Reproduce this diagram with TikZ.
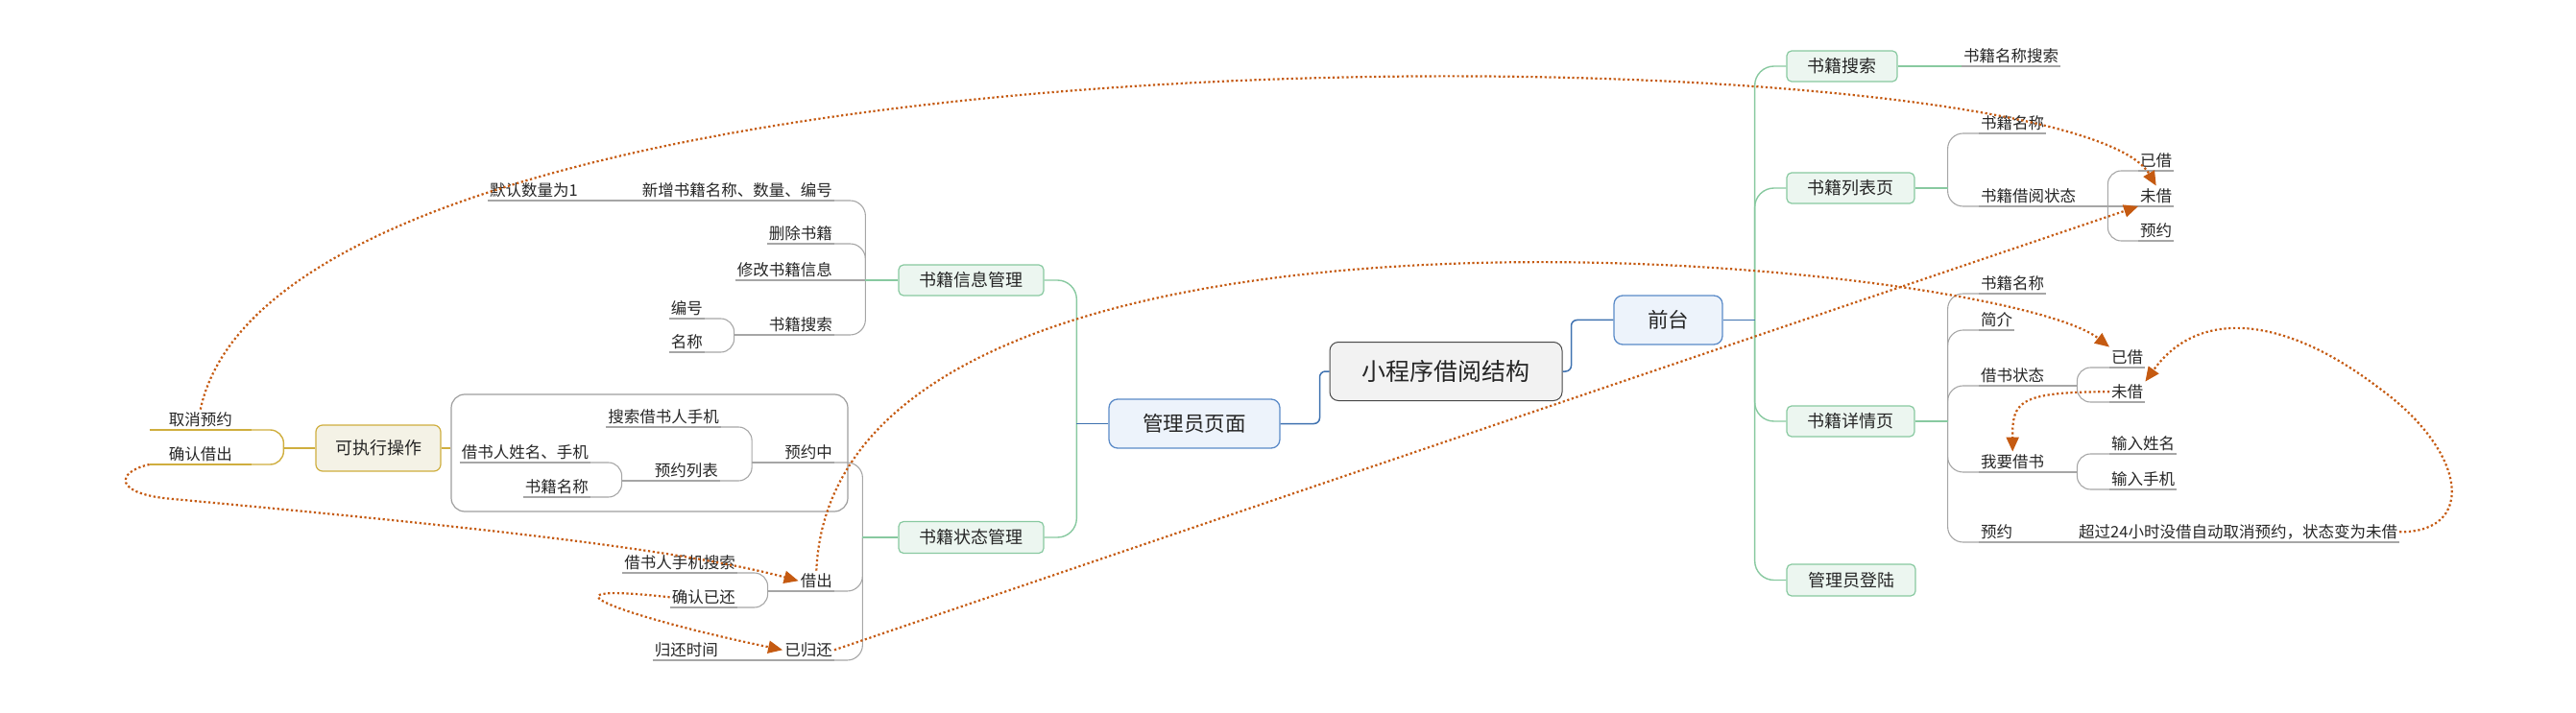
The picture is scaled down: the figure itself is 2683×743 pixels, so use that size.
\documentclass[tikz,border=0pt]{standalone}
\usepackage{fontspec}
\setmainfont{Noto Sans CJK SC}
\usetikzlibrary{arrows.meta}

\definecolor{cgray}{HTML}{A6A6A6}
\definecolor{cbound}{HTML}{9E9E9E}
\definecolor{cblue}{HTML}{3F72B0}
\definecolor{cbluebd}{HTML}{5B8BC8}
\definecolor{cbluefill}{HTML}{EDF3FB}
\definecolor{cgreen}{HTML}{88C9A0}
\definecolor{cgreenfill}{HTML}{ECF6F0}
\definecolor{cgold}{HTML}{CFAE3E}
\definecolor{cgoldfill}{HTML}{F4F2E6}
\definecolor{crootbd}{HTML}{474747}
\definecolor{crootfill}{HTML}{F2F2F2}
\definecolor{crel}{HTML}{C55A11}
\definecolor{ctext}{HTML}{262626}

\tikzset{
  leaf/.style={font=\fontsize{16.5}{19}\selectfont, text=ctext, inner xsep=2pt, inner ysep=3pt,
    text height=13.5pt, text depth=1.5pt,
    append after command={(\tikzlastnode.south west) edge[draw=#1, line width=1.1pt] (\tikzlastnode.south east)}},
  leaf/.default=cgray,
  rootbox/.style={draw=crootbd, fill=crootfill, line width=1pt, rounded corners=9pt, text=ctext,
    minimum width=242pt, minimum height=61pt, font=\fontsize{25}{28}\selectfont},
  bluebox/.style={draw=cbluebd, fill=cbluefill, line width=1.3pt, rounded corners=9pt, text=ctext,
    minimum height=51pt, font=\fontsize{21.5}{24}\selectfont},
  greenbox/.style={draw=cgreen, fill=cgreenfill, line width=1.2pt, rounded corners=5pt, text=ctext,
    minimum height=32pt, font=\fontsize{18}{21}\selectfont},
  goldbox/.style={draw=cgold, fill=cgoldfill, line width=1.2pt, rounded corners=7pt, text=ctext,
    minimum height=48pt, font=\fontsize{18}{21}\selectfont},
  boundbox/.style={draw=cbound, line width=1.2pt, rounded corners=14pt, minimum width=413pt, minimum height=122pt},
  grayconn/.style={draw=cgray, line width=1.1pt},
  blueconn/.style={draw=cblue, line width=1.5pt},
  greenconn/.style={draw=cgreen, line width=1.4pt},
  goldconn/.style={draw=cgold, line width=1.4pt},
  rel/.style={draw=crel, line width=2.2pt, dash pattern=on 2.2pt off 2.6pt, -{Triangle[length=15pt, width=13pt]}}
}

\begin{document}
\begin{tikzpicture}[x=1pt, y=-1pt]
\useasboundingbox (0,0) rectangle (2683,743);

\node[rootbox] (root) at (1506,387) {小程序借阅结构};
\node[bluebox, minimum width=178pt] (admin) at (1244,441.5) {管理员页面};
\node[bluebox, minimum width=113pt] (front) at (1737.5,333.5) {前台};
\draw[blueconn, rounded corners=6pt] (root.west) -- ++(-10,0) |- (admin.east);
\draw[blueconn, rounded corners=6pt] (root.east) -- ++(9,0) |- (front.west);

% 前台
\node[greenbox, minimum width=115pt] (search) at (1918.5,69) {书籍搜索};
\node[greenbox, minimum width=133pt] (list) at (1927.5,196) {书籍列表页};
\node[greenbox, minimum width=133pt] (detail) at (1927.5,439) {书籍详情页};
\node[greenbox, minimum width=134pt, minimum height=33pt] (login) at (1928,604.5) {管理员登陆};
\foreach \c in {search,list,detail,login}
  \draw[greenconn, rounded corners=20pt] (front.east) ++(33,0) |- (\c.west);
\draw[blueconn] (front.east) -- ++(33,0);

\node[leaf, anchor=south west] (sname) at (2043,69) {书籍名称搜索};
\draw[greenconn] (search.east) -- (sname.south west);

\node[leaf, anchor=south west] (lname) at (2061,139) {书籍名称};
\node[leaf, anchor=south west] (lstate) at (2061,215) {书籍借阅状态};
\foreach \c in {lname,lstate}
  \draw[grayconn, rounded corners=16pt] (list.east) ++(34,0) |- (\c.south west);
\draw[greenconn] (list.east) -- ++(34,0);

\node[leaf, anchor=south west] (lborrowed) at (2227,178) {已借};
\node[leaf, anchor=south west] (lfree) at (2227,215) {未借};
\node[leaf, anchor=south west] (lresv) at (2227,251) {预约};
\foreach \c in {lborrowed,lresv}
  \draw[grayconn, rounded corners=14pt] (lstate.south east) ++(31,0) |- (\c.south west);
\draw[grayconn] (lstate.south east) -- (lfree.south west);

\node[leaf, anchor=south west] (dname) at (2061,306) {书籍名称};
\node[leaf, anchor=south west] (intro) at (2061,344) {简介};
\node[leaf, anchor=south west] (dstate) at (2061,402) {借书状态};
\node[leaf, anchor=south west] (borrow) at (2061,492) {我要借书};
\node[leaf, anchor=south west] (dresv) at (2061,565) {预约};
\foreach \c in {dname,intro,dstate,borrow,dresv}
  \draw[grayconn, rounded corners=16pt] (detail.east) ++(34,0) |- (\c.south west);
\draw[greenconn] (detail.east) -- ++(34,0);

\node[leaf, anchor=south west] (dborrowed) at (2197,383) {已借};
\node[leaf, anchor=south west] (dfree) at (2197,419) {未借};
\foreach \c in {dborrowed,dfree}
  \draw[grayconn, rounded corners=14pt] (dstate.south east) ++(32,0) |- (\c.south west);
\draw[grayconn] (dstate.south east) -- ++(32,0);

\node[leaf, anchor=south west] (inname) at (2197,473) {输入姓名};
\node[leaf, anchor=south west] (inphone) at (2197,510) {输入手机};
\foreach \c in {inname,inphone}
  \draw[grayconn, rounded corners=14pt] (borrow.south east) ++(32,0) |- (\c.south west);
\draw[grayconn] (borrow.south east) -- ++(32,0);

\node[leaf, anchor=south west] (timeout) at (2163,565) {超过24小时没借自动取消预约，状态变为未借};
\draw[grayconn] (dresv.south east) -- (timeout.south west);

% 管理员页面
\node[greenbox, minimum width=151pt] (bookinfo) at (1011.5,292) {书籍信息管理};
\node[greenbox, minimum width=151pt, minimum height=33pt] (bookstat) at (1011.5,560) {书籍状态管理};
\foreach \c in {bookinfo,bookstat}
  \draw[greenconn, rounded corners=20pt] (admin.west) ++(-33,0) |- (\c.east);
\draw[blueconn] (admin.west) -- ++(-33,0);

\node[leaf, anchor=south east] (add) at (869,209) {新增书籍名称、数量、编号};
\node[leaf, anchor=south east] (dflt) at (604,209) {默认数量为1};
\node[leaf, anchor=south east] (del) at (869,254) {删除书籍};
\node[leaf, anchor=south east] (mod) at (869,292) {修改书籍信息};
\node[leaf, anchor=south east] (bsearch) at (869,349) {书籍搜索};
\foreach \c in {add,del,bsearch}
  \draw[grayconn, rounded corners=16pt] (bookinfo.west) ++(-34,0) |- (\c.south east);
\draw[grayconn] (bookinfo.west) -- (mod.south east);
\draw[greenconn] (bookinfo.west) -- ++(-34,0);
\draw[grayconn] (add.south west) -- (dflt.south east);

\node[leaf, anchor=south east] (num) at (734,332) {编号};
\node[leaf, anchor=south east] (bname) at (734,367) {名称};
\foreach \c in {num,bname}
  \draw[grayconn, rounded corners=14pt] (bsearch.south west) ++(-34,0) |- (\c.south east);
\draw[grayconn] (bsearch.south west) -- ++(-34,0);

\node[leaf, anchor=south east] (resv) at (869,482) {预约中};
\node[leaf, anchor=south east] (lend) at (869,616) {借出};
\node[leaf, anchor=south east] (ret) at (869,688) {已归还};
\foreach \c in {resv,lend,ret}
  \draw[grayconn, rounded corners=16pt] (bookstat.west) ++(-37,0) |- (\c.south east);
\draw[greenconn] (bookstat.west) -- ++(-37,0);

\node[leaf, anchor=south east] (phone) at (751,445) {搜索借书人手机};
\node[leaf, anchor=south east] (rlist) at (750,501) {预约列表};
\foreach \c in {phone,rlist}
  \draw[grayconn, rounded corners=14pt] (resv.south west) ++(-32,0) |- (\c.south east);
\draw[grayconn] (resv.south west) -- ++(-32,0);

\node[leaf, anchor=south east] (who) at (615,482) {借书人姓名、手机};
\node[leaf, anchor=south east] (rname) at (615,518) {书籍名称};
\foreach \c in {who,rname}
  \draw[grayconn, rounded corners=14pt] (rlist.south west) ++(-32,0) |- (\c.south east);
\draw[grayconn] (rlist.south west) -- ++(-32,0);

\node[leaf, anchor=south east] (lphone) at (768,597) {借书人手机搜索};
\node[leaf, anchor=south east] (conret) at (768,633) {确认已还};
\foreach \c in {lphone,conret}
  \draw[grayconn, rounded corners=14pt] (lend.south west) ++(-32,0) |- (\c.south east);
\draw[grayconn] (lend.south west) -- ++(-32,0);

\node[leaf, anchor=south east] (rtime) at (750,688) {归还时间};
\draw[grayconn] (ret.south west) -- (rtime.south east);

% 可执行操作
\node[boundbox] (bound) at (676.5,472) {};
\node[goldbox, minimum width=130pt] (ops) at (394,467) {可执行操作};
\draw[goldconn] (ops.east) -- (ops.east -| bound.west);
\node[leaf=cgold, anchor=south east, inner xsep=20pt] (cancel) at (262,448) {取消预约};
\node[leaf=cgold, anchor=south east, inner xsep=20pt] (confirm) at (262,484) {确认借出};
\foreach \c in {cancel,confirm}
  \draw[goldconn, rounded corners=14pt] (ops.west) ++(-33,0) |- (\c.south east);
\draw[goldconn] (ops.west) -- ++(-33,0);

% relations
\draw[rel] (cancel.north) .. controls (300,0) and (2150,30) .. (lfree.north);
\draw[rel] (confirm.south west) .. controls (120,492) and (118,515) .. (180,520)
  .. controls (450,545) and (700,570) .. (lend.west);
\draw[rel] (conret.west) .. controls (540,605) and (660,645) .. (ret.west);
\draw[rel] (lend.north) .. controls (870,150) and (2080,270) .. (dborrowed.north west);
\draw[rel] (ret.east) .. controls (1300,530) and (1800,360) .. (lfree.south west);
\draw[rel] (timeout.east) .. controls (2580,555) and (2570,470) .. (2476,403)
  .. controls (2380,330) and (2290,320) .. (dfree.north east);
\draw[rel] (dfree.west) .. controls (2100,408) and (2096,420) .. (borrow.north);
\end{tikzpicture}
\end{document}
